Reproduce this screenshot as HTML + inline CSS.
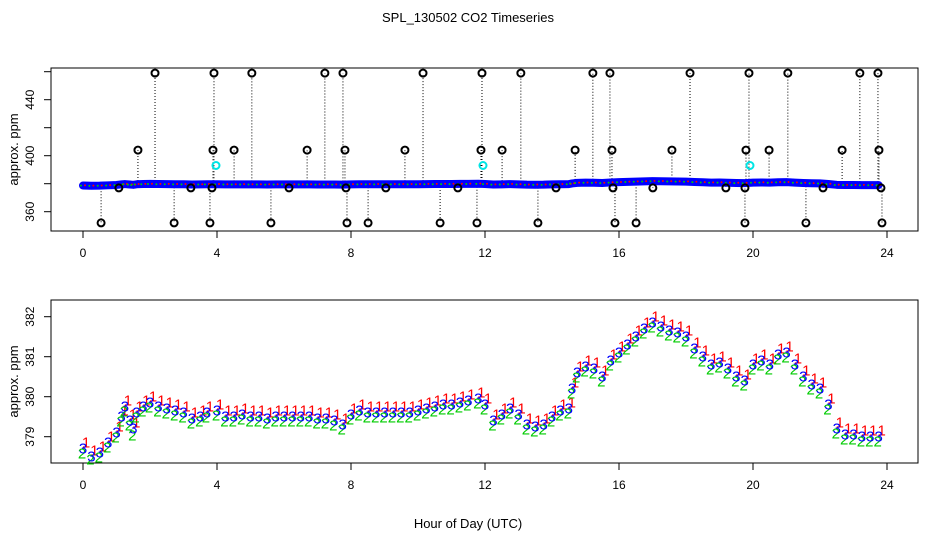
<!DOCTYPE html>
<html><head><meta charset="utf-8"><style>
body{margin:0;background:#fff}
svg{display:block;font-family:"Liberation Sans",sans-serif}
</style></head><body>
<svg id="chart" width="936" height="540" viewBox="0 0 936 540">
<text x="468" y="22" text-anchor="middle" font-size="13">SPL_130502  CO2 Timeseries</text>
<text x="468" y="528" text-anchor="middle" font-size="13">Hour of Day (UTC)</text>
<g id="top"></g>
<g id="bot"></g>
</svg>
<script>
const hours=[0,0.25,0.5,0.75,1,1.15,1.25,1.4,1.5,1.6,1.8,2,2.25,2.5,2.75,3,3.25,3.5,3.7,4,4.25,4.5,4.75,5,5.25,5.5,5.75,6,6.25,6.5,6.75,7,7.25,7.5,7.75,8,8.25,8.5,8.75,9,9.25,9.5,9.75,10,10.25,10.5,10.75,11,11.25,11.5,11.8,12,12.25,12.5,12.75,13,13.25,13.5,13.75,14,14.25,14.5,14.6,14.75,15,15.25,15.5,15.75,16,16.25,16.5,16.75,17,17.25,17.5,17.75,18,18.25,18.5,18.75,19,19.25,19.5,19.75,20,20.25,20.5,20.75,21,21.25,21.5,21.75,22,22.25,22.5,22.75,23,23.25,23.5,23.75];
const series3=[378.7,378.5,378.6,378.85,379.1,379.5,379.75,379.4,379.2,379.6,379.75,379.85,379.75,379.7,379.65,379.6,379.45,379.5,379.6,379.65,379.5,379.5,379.55,379.5,379.5,379.45,379.5,379.5,379.5,379.5,379.5,379.45,379.45,379.4,379.3,379.55,379.65,379.6,379.6,379.6,379.6,379.6,379.6,379.65,379.7,379.75,379.8,379.8,379.85,379.9,379.95,379.8,379.4,379.55,379.7,379.55,379.3,379.25,379.3,379.5,379.65,379.7,380.2,380.6,380.75,380.7,380.5,380.9,381.1,381.3,381.5,381.7,381.85,381.75,381.65,381.6,381.5,381.2,381,380.8,380.85,380.7,380.5,380.4,380.8,380.9,380.8,381.05,381.1,380.8,380.5,380.3,380.2,379.8,379.2,379.05,379.05,379,379,379];
const series1=[378.85,378.65,378.75,379,379.25,379.65,379.9,379.55,379.35,379.75,379.9,380,379.9,379.85,379.8,379.75,379.6,379.65,379.75,379.8,379.65,379.65,379.7,379.65,379.65,379.6,379.65,379.65,379.65,379.65,379.65,379.6,379.6,379.55,379.45,379.7,379.8,379.75,379.75,379.75,379.75,379.75,379.75,379.8,379.85,379.9,379.95,379.95,380,380.05,380.1,379.95,379.55,379.7,379.85,379.7,379.45,379.4,379.45,379.65,379.8,379.85,380.35,380.75,380.9,380.85,380.65,381.05,381.25,381.45,381.65,381.85,382,381.9,381.8,381.75,381.65,381.35,381.15,380.95,381,380.85,380.65,380.55,380.95,381.05,380.95,381.2,381.25,380.95,380.65,380.45,380.35,379.95,379.35,379.2,379.2,379.15,379.15,379.15];
const series2=[378.6,378.45,378.5,378.75,379,379.4,379.65,379.3,379.05,379.5,379.65,379.75,379.65,379.6,379.55,379.5,379.35,379.4,379.5,379.55,379.4,379.4,379.45,379.4,379.4,379.35,379.4,379.4,379.4,379.4,379.4,379.35,379.35,379.3,379.2,379.45,379.55,379.5,379.5,379.5,379.5,379.5,379.5,379.55,379.6,379.65,379.7,379.7,379.75,379.8,379.85,379.7,379.3,379.45,379.6,379.45,379.2,379.15,379.2,379.4,379.55,379.6,380.1,380.5,380.65,380.6,380.4,380.8,381,381.2,381.4,381.6,381.75,381.65,381.55,381.5,381.4,381.1,380.9,380.7,380.75,380.6,380.4,380.3,380.7,380.8,380.7,380.95,381,380.7,380.4,380.2,380.1,379.7,379.1,378.95,378.95,378.9,378.9,378.9];
const outHours=[2.15,3.91,5.04,7.22,7.76,10.15,11.91,13.07,15.22,15.73,18.12,19.88,21.04,23.19,23.73,1.64,3.88,4.51,6.69,7.82,9.61,11.88,12.51,14.69,15.79,17.58,19.79,20.48,22.66,23.76,1.07,3.22,3.85,6.15,7.85,9.04,11.19,14.12,15.82,17.01,19.19,19.76,22.09,23.82,0.54,2.72,3.79,5.61,7.88,8.51,10.66,11.76,13.58,15.88,16.51,19.76,21.58,23.85];
const outValues=[459,459,459,459,459,459,459,459,459,459,459,459,459,459,459,404,404,404,404,404,404,404,404,404,404,404,404,404,404,404,377,377,377,377,377,377,377,377,377,377,377,377,377,377,352,352,352,352,352,352,352,352,352,352,352,352,352,352];
const cyanHours=[3.97,11.94,19.91];
const cyanValues=[393,393,393];
const xTicks=[0,4,8,12,16,20,24];
const topYTicks=[360,380,400,420,440,460];
const topYLabels=[360,400,440];
const botYTicks=[379,380,381,382];

const NS="http://www.w3.org/2000/svg";
function mk(parent,tag,attrs,text){const e=document.createElementNS(NS,tag);for(const k in attrs)e.setAttribute(k,attrs[k]);if(text!==undefined)e.textContent=text;parent.appendChild(e);return e;}
const X=h=>83+h*33.5;
const Ytop=v=>183.7-(v-380)*1.4;
const Ybot=v=>396.7-(v-380)*40;

function frame(g,top,bottom,yTicks,yLabels,Y,prefix){
  const box=mk(g,'rect',{x:51,y:top,width:867,height:bottom-top,fill:'none',stroke:'#000','stroke-width':1});
  
  
  xTicks.forEach(t=>{
    const l=mk(g,'line',{x1:X(t),x2:X(t),y1:bottom,y2:bottom+7,stroke:'#000'});
    
    
    const tx=mk(g,'text',{x:X(t),y:bottom+26,'text-anchor':'middle','font-size':12},String(t));
    
    
  });
  yTicks.forEach(t=>{
    const l=mk(g,'line',{x1:44,x2:51,y1:Y(t),y2:Y(t),stroke:'#000'});
    
    
  });
  yLabels.forEach(t=>{
    const tx=mk(g,'text',{x:0,y:0,'text-anchor':'middle','font-size':12,transform:`translate(34,${Y(t)}) rotate(-90)`},String(t));
    
    
  });
  const yt=mk(g,'text',{x:0,y:0,'text-anchor':'middle','font-size':13,transform:`translate(18,${(top+bottom)/2}) rotate(-90)`},'approx. ppm');
  
  
}

// Top panel
const gt=document.getElementById('top');
frame(gt,68,231,topYTicks,topYLabels,Ytop,'top');
outHours.forEach((h,i)=>{
  const base=series3[Math.min(series3.length-1,Math.max(0,hours.findIndex(x=>x>=h)))];
  const ln=mk(gt,'line',{x1:X(h),x2:X(h),y1:Ytop(base),y2:Ytop(outValues[i]),stroke:'#000','stroke-dasharray':'1,2'});
  
  
});
let pts=hours.map((h,i)=>X(h)+','+Ytop(series3[i])).join(' ');
const band=mk(gt,'polyline',{points:pts,fill:'none',stroke:'#0000ff','stroke-width':8,'stroke-linecap':'round','stroke-linejoin':'round'});


hours.forEach((h,i)=>{
  const d=mk(gt,'circle',{cx:X(h)+2,cy:Ytop(series1[i]),r:1,fill:'#f00'});
  
  
  const d2=mk(gt,'circle',{cx:X(h)-2,cy:Ytop(series2[i]),r:1,fill:'#0c0'});
  
  
});
outHours.forEach((h,i)=>{
  const c=mk(gt,'circle',{cx:X(h),cy:Ytop(outValues[i]),r:3.5,fill:'none',stroke:'#000','stroke-width':2});
  
  
});
cyanHours.forEach((h,i)=>{
  const c=mk(gt,'circle',{cx:X(h),cy:Ytop(cyanValues[i]),r:3.5,fill:'none',stroke:'#00e5e5','stroke-width':2});
  
  
});

// Bottom panel
const gb=document.getElementById('bot');
frame(gb,300,463,botYTicks,botYTicks,Ybot,'bottom');
hours.forEach((h,i)=>{
  const a=mk(gb,'text',{x:X(h)+3,y:Ybot(series1[i])+5,'text-anchor':'middle','font-size':15,fill:'#ff0000'},'1');
  
  
  const b=mk(gb,'text',{x:X(h)-1,y:Ybot(series2[i])+6,'text-anchor':'middle','font-size':15,fill:'#00cc00'},'2');
  
  
  const c=mk(gb,'text',{x:X(h),y:Ybot(series3[i])+5,'text-anchor':'middle','font-size':15,fill:'#0000ff'},'3');
  
  
});
</script>
</body></html>
